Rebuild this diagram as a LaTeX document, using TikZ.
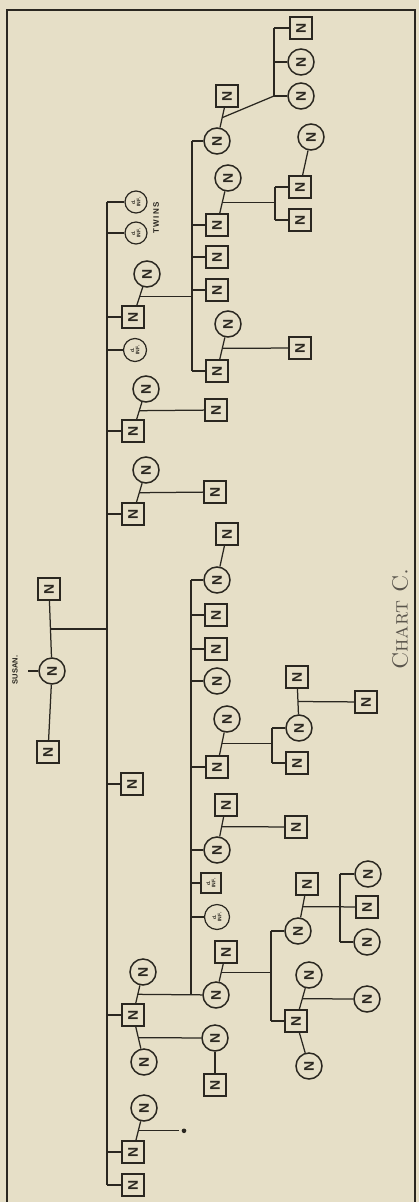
\documentclass[tikz,border=0pt]{standalone}
\usepackage{fontspec}
\newfontfamily\arialf{Liberation Sans}
\newfontfamily\arialsp[LetterSpace=18]{Liberation Sans}
\definecolor{inkc}{HTML}{2A2720}
\definecolor{titlec}{HTML}{5A554C}
\definecolor{paper}{HTML}{E6DFC7}
\newcommand\zfont{\arialf\bfseries\fontsize{14}{14}\selectfont}
\newcommand\inffont{\arialf\bfseries\fontsize{5}{5.2}\selectfont}
\tikzset{
  conn/.style={draw=inkc, line width=1.25pt},
  sq/.style={draw=inkc, line width=1.5pt, minimum size=22pt, inner sep=0pt, rotate=90, font=\zfont, text=inkc},
  ci/.style={circle, draw=inkc, line width=1.5pt, minimum size=26pt, inner sep=0pt, rotate=90, font=\zfont, text=inkc},
  infc/.style={circle, draw=inkc, line width=1.2pt, minimum size=#1, inner sep=0pt, rotate=90, font=\inffont, align=center, text=inkc},
  infc/.default=23pt,
  infs/.style={draw=inkc, line width=1.3pt, minimum size=20pt, inner sep=0pt, rotate=90, font=\inffont, align=center, text=inkc},
  lbl/.style={rotate=90, inner sep=0pt, text=inkc},
}
\begin{document}
\begin{tikzpicture}[x=1pt,y=-1pt]
\fill[paper] (0,0) rectangle (419,1202);
\useasboundingbox (0,0) rectangle (419,1202);
% frame
\coordinate (f1) at (7,1210);
\coordinate (f2) at (7,10);
\coordinate (f3) at (415,10);
\coordinate (f4) at (415,1210);
\draw[inkc, line width=1.2pt] (f1) -- (f2) -- (f3) -- (f4);

% ---------- generation 0 ----------
\node[sq] (s1) at (49,589) {N};
\node[ci] (susan) at (52,671) {N};
\node[sq] (s2) at (48,752) {N};
\node[lbl, font=\arialf\bfseries\fontsize{7.5}{8}\selectfont] (susanlbl) at (15,670) {SUSAN.};
\coordinate (sst) at (28,671);
\draw[conn] (sst) -- (susan);
\draw[conn] (s1) -- coordinate (ms) (susan);
\draw[conn] (susan) -- (s2);
\coordinate (A) at (107,0);

% ---------- generation 1 ----------
\node[infc=22pt] (a1) at (136,202) {d.\\INF.};
\node[infc=22pt] (a2) at (136,233) {d.\\INF.};
\node[lbl, font=\arialsp\bfseries\fontsize{8}{8}\selectfont] (twins) at (156,218) {TWINS};
\node[ci] (a3w) at (147,274) {N};
\node[sq] (a3) at (133,317) {N};
\node[infc=23pt] (a4) at (135,350) {d.\\INF.};
\node[ci] (a5w) at (146,389) {N};
\node[sq] (a5) at (133,431) {N};
\node[sq] (a5c) at (216,410) {N};
\node[ci] (a6w) at (146,470) {N};
\node[sq] (a6) at (133,514) {N};
\node[sq] (a6c) at (215,492) {N};
\node[sq] (a7) at (132,784) {N};
\node[ci] (a8w) at (143,972) {N};
\node[sq] (a8) at (133,1015) {N};
\node[ci] (a8v) at (144,1062) {N};
\node[ci] (a9w) at (144,1108) {N};
\node[sq] (a9) at (133,1152) {N};
\node[sq] (a10) at (133,1185) {N};

\draw[conn] (ms) -- (ms -| A);
\draw[conn] (A |- a1) -- (A |- a10);
\foreach \n in {a1,a2,a3,a4,a5,a6,a7,a8,a9,a10}
  \draw[conn] (A |- \n) -- (\n);

\draw[conn] (a3w) -- coordinate (m3) (a3);
\draw[conn] (a5w) -- coordinate (m5) (a5);
\draw[conn] (m5) -- (a5c);
\draw[conn] (a6w) -- coordinate (m6) (a6);
\draw[conn] (m6) -- (a6c);
\draw[conn] (a8w) -- coordinate (m8) (a8);
\draw[conn] (a8) -- coordinate (m8v) (a8v);
\draw[conn] (a9w) -- coordinate (m9) (a9);
\coordinate (L9) at (179,0);
\coordinate (D9) at (184,0);
\draw[conn] (m9) -- (m9 -| L9);
\fill[inkc] (m9 -| D9) circle (2.3pt);

% ---------- family of a3 ----------
\coordinate (B1) at (192,0);
\node[ci] (b1) at (217,141) {N};
\node[sq] (b1h) at (227,96) {N};
\node[ci] (b2w) at (228,178) {N};
\node[sq] (b2) at (217,225) {N};
\node[sq] (b3) at (217,257) {N};
\node[sq] (b4) at (217,290) {N};
\node[ci] (b5w) at (228,324) {N};
\node[sq] (b5) at (217,371) {N};
\node[sq] (b5c) at (300,348) {N};
\draw[conn] (m3) -- (m3 -| B1);
\draw[conn] (B1 |- b1) -- (B1 |- b5);
\foreach \n in {b1,b2,b3,b4,b5}
  \draw[conn] (B1 |- \n) -- (\n);

% b1 family
\node[sq] (c1) at (301,28) {N};
\node[ci] (c2) at (301,62) {N};
\node[ci] (c3) at (301,96) {N};
\coordinate (C1) at (274,0);
\draw[conn] (b1h) -- coordinate (mb1) (b1);
\draw[conn] (mb1) -- (C1 |- c3);
\draw[conn] (C1 |- c1) -- (C1 |- c3);
\foreach \n in {c1,c2,c3}
  \draw[conn] (C1 |- \n) -- (\n);

% b2 family
\node[ci] (c4w) at (311,137) {N};
\node[sq] (c4) at (300,187) {N};
\node[sq] (c5) at (300,220) {N};
\coordinate (C2) at (275,0);
\draw[conn] (b2w) -- coordinate (mb2) (b2);
\draw[conn] (mb2) -- (mb2 -| C2);
\draw[conn] (C2 |- c4) -- (C2 |- c5);
\foreach \n in {c4,c5}
  \draw[conn] (C2 |- \n) -- (\n);
\draw[conn] (c4w) -- (c4);

% b5 family
\draw[conn] (b5w) -- coordinate (mb5) (b5);
\draw[conn] (mb5) -- (b5c);

% ---------- family of a8 ----------
\coordinate (B2) at (191,0);
\node[sq] (b6h) at (227,534) {N};
\node[ci] (b6) at (217,580) {N};
\node[sq] (b7) at (216,615) {N};
\node[sq] (b8) at (216,649) {N};
\node[ci] (b9) at (217,681) {N};
\node[ci] (b10w) at (227,719) {N};
\node[sq] (b10) at (217,767) {N};
\node[sq] (b11h) at (226,805) {N};
\node[ci] (b11) at (217,850) {N};
\node[infs] (b12) at (211,883) {d.\\INF.};
\node[infc=25pt] (b13) at (217,917) {d.\\INF.};
\node[sq] (b14h) at (226,952) {N};
\node[ci] (b14) at (216,995) {N};
\draw[conn] (m8) -- (b14);
\draw[conn] (B2 |- b6) -- (B2 |- b14);
\foreach \n in {b6,b7,b8,b9,b10,b11,b12,b13}
  \draw[conn] (B2 |- \n) -- (\n);
\draw[conn] (b6h) -- (b6);

% b10 family
\coordinate (C3) at (272,0);
\node[sq] (c7h) at (297,677) {N};
\node[ci] (c7) at (299,728) {N};
\node[sq] (c8) at (366,702) {N};
\node[sq] (c9) at (297,763) {N};
\draw[conn] (b10w) -- coordinate (mb10) (b10);
\draw[conn] (mb10) -- (mb10 -| C3);
\draw[conn] (C3 |- c7) -- (C3 |- c9);
\foreach \n in {c7,c9}
  \draw[conn] (C3 |- \n) -- (\n);
\draw[conn] (c7h) -- coordinate (mc7) (c7);
\draw[conn] (mc7) -- (c8);

% b11 family
\node[sq] (c10) at (296,827) {N};
\draw[conn] (b11h) -- coordinate (mb11) (b11);
\draw[conn] (mb11) -- (c10);

% b14 family
\coordinate (C4) at (271,0);
\node[sq] (c11h) at (307,884) {N};
\node[ci] (c11) at (298,931) {N};
\node[ci] (c12w) at (309,975) {N};
\node[sq] (c12) at (296,1021) {N};
\node[ci] (c12v) at (309,1066) {N};
\draw[conn] (b14h) -- coordinate (mb14) (b14);
\draw[conn] (mb14) -- (mb14 -| C4);
\draw[conn] (C4 |- c11) -- (C4 |- c12);
\foreach \n in {c11,c12}
  \draw[conn] (C4 |- \n) -- (\n);

% c11 family
\coordinate (D) at (340,0);
\node[ci] (d1) at (368,874) {N};
\node[sq] (d2) at (367,907) {N};
\node[ci] (d3) at (367,942) {N};
\draw[conn] (c11h) -- coordinate (mc11) (c11);
\draw[conn] (mc11) -- (d2);
\draw[conn] (D |- d1) -- (D |- d3);
\foreach \n in {d1,d3}
  \draw[conn] (D |- \n) -- (\n);

% c12 family
\node[ci] (d4) at (367,999) {N};
\draw[conn] (c12w) -- coordinate (mc12) (c12);
\draw[conn] (mc12) -- (d4);
\draw[conn] (c12) -- (c12v);

% a8 second marriage
\node[ci] (b15) at (215,1038) {N};
\node[sq] (b15h) at (215,1085) {N};
\draw[conn] (m8v) -- (b15);
\draw[conn] (b15) -- (b15h);

% title
\node[lbl, text=titlec, font=\fontsize{22}{23}\selectfont] (title) at (400,619) {\textsc{Chart C.}};
\end{tikzpicture}
\end{document}
